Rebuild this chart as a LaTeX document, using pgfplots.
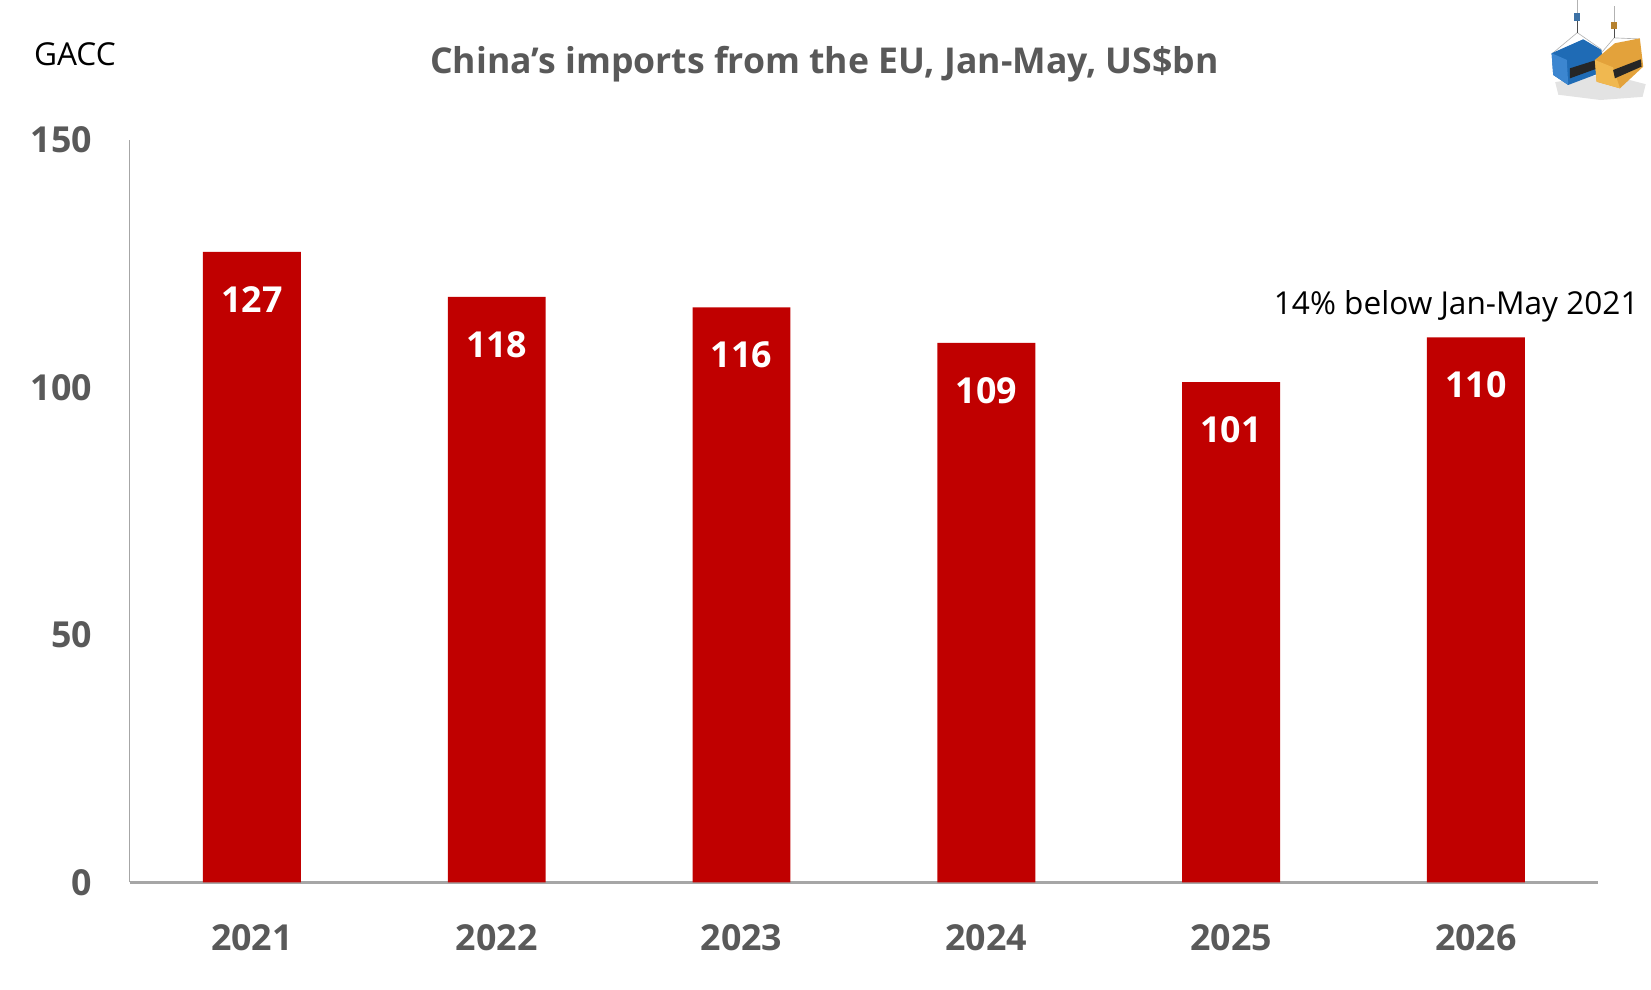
\documentclass[border=0pt]{standalone}
\usepackage{pgfplots}
\pgfplotsset{compat=1.18}
\usepackage{fontspec}
\setmainfont{Open Sans}
\definecolor{barred}{HTML}{C00000}
\definecolor{txtgray}{HTML}{595959}
\definecolor{axgray}{HTML}{A6A6A6}
\definecolor{logoblue}{HTML}{1F6BB5}
\definecolor{logoblueL}{HTML}{3C86D0}
\definecolor{logoorange}{HTML}{E3A23B}
\definecolor{logoorangeL}{HTML}{F0B850}
\pgfplotstableread{
x y lab
0 127.4 127
1 118.3 118
2 116.2 116
3 109.0 109
4 101.1 101
5 110.1 110
}\imports
\begin{document}
\begin{tikzpicture}[x=1pt,y=1pt]
\useasboundingbox (0,0) rectangle (784,470);
\begin{axis}[
  at={(61.5pt,51pt)}, anchor=south west,
  scale only axis, width=697.5pt, height=352.5pt,
  xmin=-0.5, xmax=5.5, ymin=0, ymax=150,
  ytick={0,50,100,150},
  xtick={0,1,2,3,4,5},
  xticklabels={2021,2022,2023,2024,2025,2026},
  axis x line=bottom, axis y line=left,
  axis line style={-},
  x axis line style={draw=axgray, line width=1.3pt},
  y axis line style={draw=axgray, line width=0.7pt},
  major tick length=0pt,
  /pgf/number format/assume math mode=true,
  tick label style={font=\fontsize{17}{20}\selectfont\bfseries, text=txtgray},
  yticklabel style={anchor=east, inner sep=0pt, xshift=-17.5pt},
  xticklabel style={anchor=north, inner sep=0pt, yshift=-20pt},
  ybar, bar width=46.5pt,
  clip=false,
]
\addplot[fill=barred, draw=none,
  nodes near coords, point meta=explicit symbolic,
  every node near coord/.append style={anchor=center, yshift=-22.5pt, text=white,
    font=\fontsize{17}{20}\selectfont\bfseries}]
  table[x=x, y=y, meta=lab] {\imports};
\end{axis}
\begin{scope}[x=0.5pt, y=-0.5pt, shift={(0,470pt)}]
  \node[anchor=base, text=txtgray, font=\fontsize{16.9}{20}\selectfont\bfseries] at (783,69.5) {China’s imports from the EU, Jan-May, US\$bn};
  \node[anchor=base west, inner sep=0pt, font=\fontsize{15}{18}\selectfont] at (32,62.4) {GACC};
  \node[anchor=base, inner sep=0pt, font=\fontsize{15}{18}\selectfont] at (1383,299) {14\% below Jan-May 2021};
  % logo (decoration)
  \fill[gray!22] (1477,78) -- (1525,70) -- (1563,80) -- (1560,92) -- (1520,95) -- (1480,90) -- cycle;
  % cables
  \draw[gray!60, line width=0.4pt] (1498,0) -- (1498,13) (1533,6) -- (1533,21);
  \draw[gray!60, line width=0.3pt] (1498,31) -- (1474,51) (1498,31) -- (1521,47)
       (1533,36) -- (1515,57) (1533,36) -- (1557,37);
  \fill[logoblue!70!gray] (1495,12) rectangle (1501,20);
  \fill[logoorange!80!black] (1530,21) rectangle (1536,28);
  \draw[black!70, line width=0.6pt] (1498,20) -- (1498,31) (1533,28) -- (1533,36);
  % blue container
  \fill[logoblue] (1473.6,50.6) -- (1503.6,37.3) -- (1521,47.5) -- (1522.6,68.1) -- (1489.4,80.7) -- (1475.1,71.2) -- cycle;
  \fill[logoblueL] (1473.6,50.6) -- (1488,56.9) -- (1489.4,80.7) -- (1475.1,71.2) -- cycle;
  \fill[black!85] (1491,64.9) -- (1521,55.4) -- (1521.6,63.3) -- (1491,74.4) -- cycle;
  % orange container
  \fill[logoorange] (1514.7,57) -- (1533.7,41.1) -- (1557.4,36.4) -- (1560.6,63.3) -- (1538.5,83.9) -- (1516.3,77.6) -- cycle;
  \fill[logoorangeL] (1514.7,57) -- (1532,64) -- (1538.5,83.9) -- (1516.3,77.6) -- cycle;
  \fill[black!85] (1532,66.5) -- (1558.4,56.3) -- (1559,63.3) -- (1533.7,74.4) -- cycle;
\end{scope}
\end{tikzpicture}
\end{document}
